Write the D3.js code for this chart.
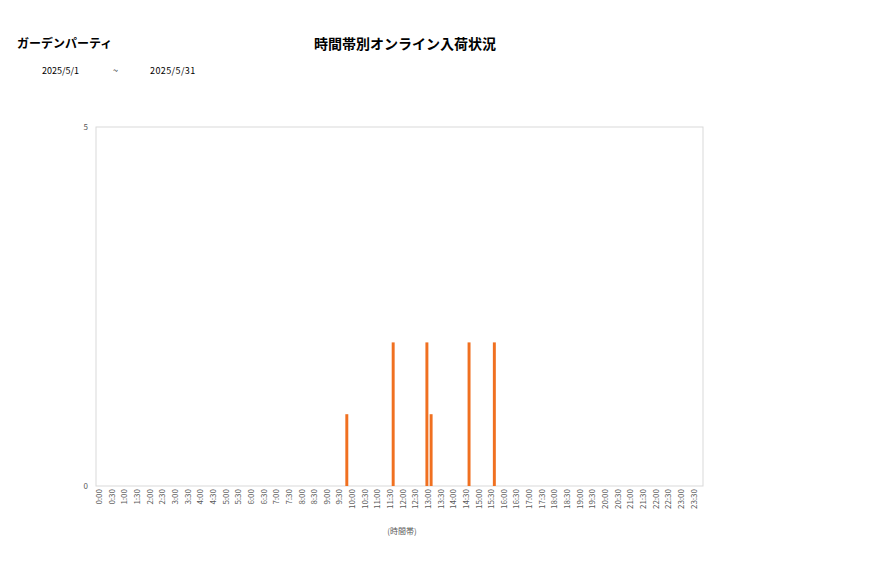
<!DOCTYPE html>
<html>
<head>
<meta charset="utf-8">
<script src="https://cdn.jsdelivr.net/npm/d3@7"></script>
<style>
  body { margin: 0; background: #fff; }
  text { font-family: "Noto Sans CJK JP", "Noto Sans", sans-serif; }
</style>
</head>
<body>
<svg id="chart" width="877" height="578"></svg>
<script>
"use strict"

// tick labels on the x axis (every 30 minutes)
const tickLabels = [
  "0:00","0:30","1:00","1:30","2:00","2:30","3:00","3:30","4:00","4:30","5:00","5:30",
  "6:00","6:30","7:00","7:30","8:00","8:30","9:00","9:30","10:00","10:30","11:00","11:30",
  "12:00","12:30","13:00","13:30","14:00","14:30","15:00","15:30","16:00","16:30","17:00","17:30",
  "18:00","18:30","19:00","19:30","20:00","20:30","21:00","21:30","22:00","22:30","23:00","23:30"
];
// each 30 min label covers three 10 minute slots
const subMinutes = ["0", "10", "20"];

// slots that had arrivals
const barTimes  = ["9:50", "11:40", "13:00", "13:10", "14:40", "15:40"];
const barValues = [1, 2, 2, 1, 2, 2];

const yTicks = [0, 5];

const shopName = "ガーデンパーティ";
const chartTitle = "時間帯別オンライン入荷状況";
const dateFrom = "2025/5/1";
const dateTo = "2025/5/31";
const xTitle = "(時間帯)";

// build the 10 minute slot list from the tick labels
const slots = [];
tickLabels.forEach(t => {
    const [h, m] = t.split(":");
    subMinutes.forEach(s => {
        const mm = +m + +s;
        slots.push(`${h}:${String(mm).padStart(2, "0")}`);
    });
});
const data = barTimes.map((t, i) => ({ slot: t, value: barValues[i] }));

const svg = d3.select("#chart");

const plotLeft = 96, plotRight = 703, plotTop = 127, plotBottom = 486;

const x = d3.scaleBand().domain(slots).range([plotLeft, plotRight]).paddingInner(0.3).paddingOuter(0.15);
const xPos = d3.scaleBand().domain(slots).range([plotLeft, plotRight]);
const y = d3.scaleLinear().domain([0, 5]).range([plotBottom, plotTop]);

// header texts
svg.append("text").attr("x", 17).attr("y", 48)
    .attr("font-size", 12).attr("font-weight", "bold").attr("fill", "#000")
    .text(shopName);
svg.append("text").attr("x", 405).attr("y", 49).attr("text-anchor", "middle")
    .attr("font-size", 14).attr("font-weight", "bold").attr("fill", "#000")
    .text(chartTitle);
svg.append("text").attr("x", 42).attr("y", 74).attr("font-size", 9).attr("fill", "#000").text(dateFrom);
svg.append("text").attr("x", 113).attr("y", 74).attr("font-size", 9).attr("fill", "#000").text("~");
svg.append("text").attr("x", 150).attr("y", 74).attr("font-size", 9)
    .attr("letter-spacing", 0.4).attr("fill", "#000").text(dateTo);

// plot frame
svg.append("rect")
    .attr("x", plotLeft).attr("y", plotTop)
    .attr("width", plotRight - plotLeft).attr("height", plotBottom - plotTop)
    .attr("fill", "none").attr("stroke", "#d9d9d9").attr("stroke-width", 1);

// bars
svg.selectAll(".bar")
    .data(data)
    .enter().append("rect")
    .attr("class", "bar")
    .attr("x", d => x(d.slot))
    .attr("width", x.bandwidth())
    .attr("y", d => y(d.value))
    .attr("height", d => plotBottom - y(d.value))
    .attr("fill", "#f07020");

// y axis labels
svg.selectAll(".ytick")
    .data(yTicks)
    .enter().append("text")
    .attr("class", "ytick")
    .attr("x", 88)
    .attr("y", d => y(d) + 3)
    .attr("text-anchor", "end")
    .attr("font-size", 8)
    .attr("fill", "#595959")
    .text(d => d);

// x axis labels, rotated
const xAxis = d3.axisBottom(xPos)
    .tickValues(slots.filter((s, i) => i % 3 === 0))
    .tickFormat((d, i) => tickLabels[i])
    .tickSize(0);

const gx = svg.append("g")
    .attr("transform", `translate(1.5, ${plotBottom})`)
    .call(xAxis);
gx.select(".domain").remove();
gx.selectAll("text")
    .attr("font-size", 8)
    .attr("fill", "#595959")
    .style("text-anchor", "end")
    .attr("transform", "rotate(-90)")
    .attr("x", -3)
    .attr("y", 0)
    .attr("dy", "0.32em");

// x axis title
svg.append("text").attr("x", 402).attr("y", 534).attr("text-anchor", "middle")
    .attr("font-size", 8).attr("fill", "#595959")
    .text(xTitle);
</script>
</body>
</html>
